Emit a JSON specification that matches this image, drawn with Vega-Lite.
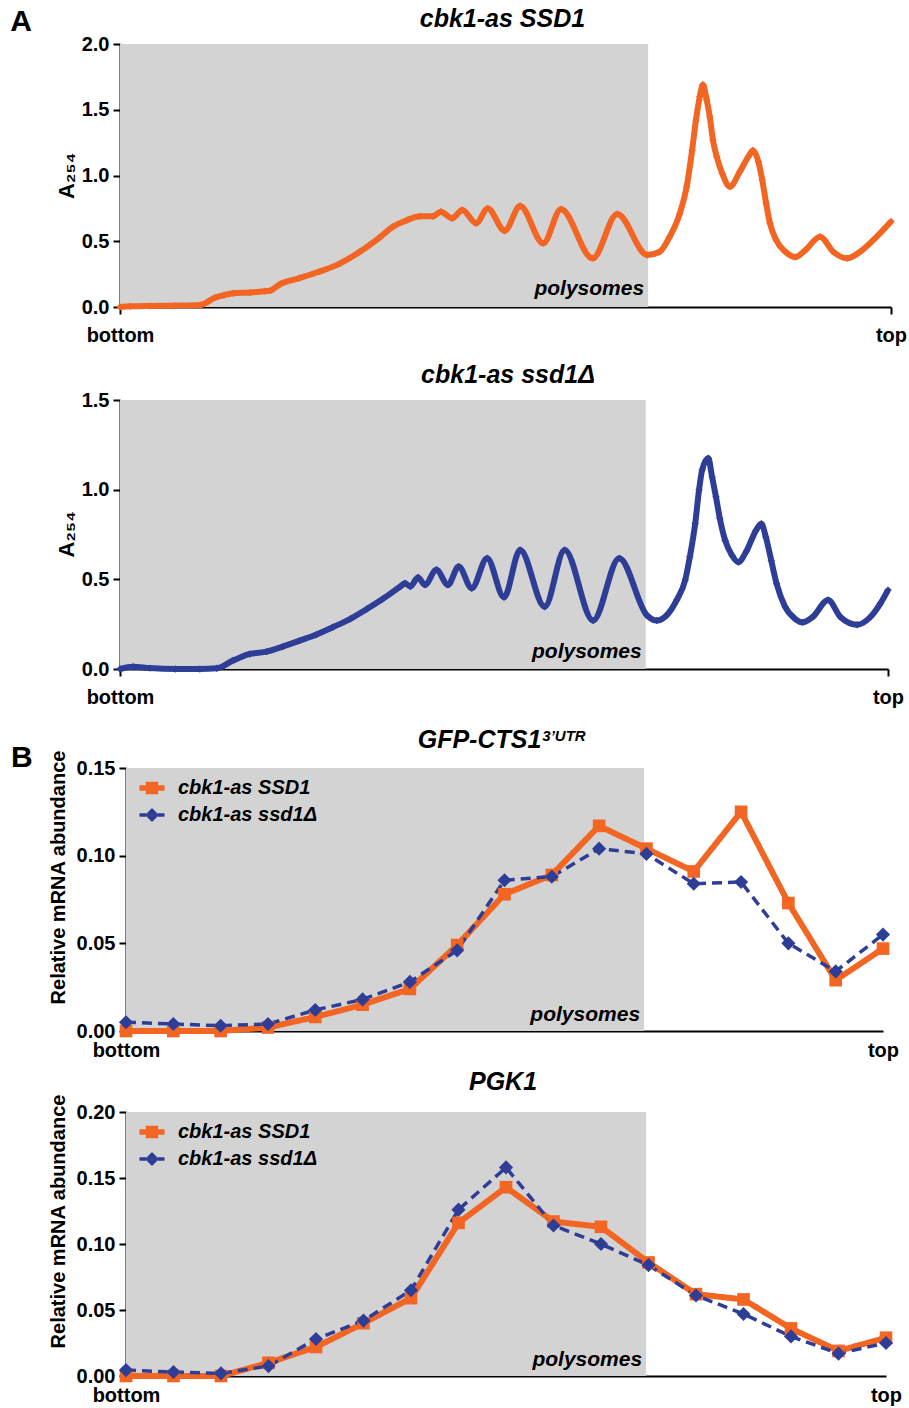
{
  "$schema": "https://vega.github.io/schema/vega-lite/v6.json",
  "autosize": {"type": "none"},
  "padding": {"left": 120, "top": 44, "right": 789, "bottom": 1364},
  "background": "white",
  "datasets": {
    "a1": [
      {"f": 0, "a": 0.0}, {"f": 1.3, "a": 0.005}, {"f": 3.9, "a": 0.008}, {"f": 7.1, "a": 0.01}, {"f": 10.4, "a": 0.015},
      {"f": 12.3, "a": 0.07}, {"f": 13.5, "a": 0.09}, {"f": 14.7, "a": 0.105}, {"f": 16.9, "a": 0.11}, {"f": 18.8, "a": 0.12},
      {"f": 19.5, "a": 0.125}, {"f": 20.8, "a": 0.175}, {"f": 23.3, "a": 0.22}, {"f": 25.9, "a": 0.27}, {"f": 28.5, "a": 0.33},
      {"f": 31.1, "a": 0.42}, {"f": 33.7, "a": 0.53}, {"f": 35.4, "a": 0.61}, {"f": 37.2, "a": 0.66}, {"f": 38.9, "a": 0.69},
      {"f": 40.6, "a": 0.69}, {"f": 41.6, "a": 0.725}, {"f": 43.1, "a": 0.675}, {"f": 44.4, "a": 0.738}, {"f": 46.2, "a": 0.637},
      {"f": 47.7, "a": 0.75}, {"f": 49.9, "a": 0.58}, {"f": 51.9, "a": 0.768}, {"f": 54.9, "a": 0.484}, {"f": 57.2, "a": 0.743},
      {"f": 61.3, "a": 0.37}, {"f": 64.5, "a": 0.707}, {"f": 68.4, "a": 0.395}, {"f": 70.0, "a": 0.42}, {"f": 71.3, "a": 0.535},
      {"f": 72.6, "a": 0.71}, {"f": 73.5, "a": 0.915}, {"f": 74.2, "a": 1.19}, {"f": 74.7, "a": 1.42}, {"f": 75.2, "a": 1.6},
      {"f": 75.6, "a": 1.69}, {"f": 76.1, "a": 1.574}, {"f": 76.5, "a": 1.447}, {"f": 76.9, "a": 1.27}, {"f": 77.4, "a": 1.143},
      {"f": 78.1, "a": 1.017}, {"f": 79.1, "a": 0.915}, {"f": 80.4, "a": 1.03}, {"f": 81.5, "a": 1.143}, {"f": 82.1, "a": 1.19},
      {"f": 82.8, "a": 1.105}, {"f": 83.3, "a": 0.966}, {"f": 83.8, "a": 0.789}, {"f": 84.3, "a": 0.637}, {"f": 85.1, "a": 0.51},
      {"f": 86.3, "a": 0.42}, {"f": 87.6, "a": 0.38}, {"f": 88.9, "a": 0.433}, {"f": 90.8, "a": 0.535}, {"f": 92.5, "a": 0.42},
      {"f": 94.3, "a": 0.37}, {"f": 96.0, "a": 0.42}, {"f": 97.9, "a": 0.52}, {"f": 100, "a": 0.65}
    ],
    "a2": [
      {"f": 0, "a": 0.0}, {"f": 1.7, "a": 0.013}, {"f": 3.9, "a": 0.005}, {"f": 7.2, "a": 0.0}, {"f": 10.4, "a": 0.0},
      {"f": 12.6, "a": 0.004}, {"f": 14.7, "a": 0.047}, {"f": 16.9, "a": 0.084}, {"f": 19.1, "a": 0.097}, {"f": 21.2, "a": 0.125},
      {"f": 23.4, "a": 0.158}, {"f": 25.6, "a": 0.192}, {"f": 27.7, "a": 0.233}, {"f": 30.0, "a": 0.28}, {"f": 32.2, "a": 0.336},
      {"f": 34.2, "a": 0.39}, {"f": 36.5, "a": 0.46}, {"f": 37.1, "a": 0.478}, {"f": 37.8, "a": 0.46}, {"f": 38.8, "a": 0.51},
      {"f": 39.7, "a": 0.469}, {"f": 41.2, "a": 0.553}, {"f": 42.7, "a": 0.469}, {"f": 44.1, "a": 0.571}, {"f": 45.8, "a": 0.45},
      {"f": 47.8, "a": 0.618}, {"f": 50.0, "a": 0.4}, {"f": 52.1, "a": 0.664}, {"f": 55.3, "a": 0.347}, {"f": 57.9, "a": 0.664},
      {"f": 61.6, "a": 0.27}, {"f": 65.0, "a": 0.618}, {"f": 68.6, "a": 0.3}, {"f": 69.9, "a": 0.27}, {"f": 71.2, "a": 0.3},
      {"f": 72.5, "a": 0.385}, {"f": 73.6, "a": 0.497}, {"f": 74.2, "a": 0.626}, {"f": 74.9, "a": 0.812}, {"f": 75.4, "a": 1.0},
      {"f": 75.8, "a": 1.11}, {"f": 76.6, "a": 1.175}, {"f": 77.1, "a": 1.07}, {"f": 77.6, "a": 0.96}, {"f": 78.1, "a": 0.84},
      {"f": 78.8, "a": 0.717}, {"f": 79.7, "a": 0.633}, {"f": 80.5, "a": 0.596}, {"f": 81.6, "a": 0.66}, {"f": 82.8, "a": 0.772},
      {"f": 83.5, "a": 0.81}, {"f": 84.1, "a": 0.735}, {"f": 84.8, "a": 0.605}, {"f": 85.5, "a": 0.475}, {"f": 86.6, "a": 0.347},
      {"f": 87.9, "a": 0.28}, {"f": 88.9, "a": 0.26}, {"f": 90.2, "a": 0.29}, {"f": 92.2, "a": 0.385}, {"f": 93.8, "a": 0.29},
      {"f": 96.0, "a": 0.247}, {"f": 97.7, "a": 0.29}, {"f": 99.0, "a": 0.365}, {"f": 100, "a": 0.44}
    ],
    "b1": [
      {"frac": 1, "strain": "cbk1-as SSD1", "v": 0.0}, {"frac": 2, "strain": "cbk1-as SSD1", "v": 0.0},
      {"frac": 3, "strain": "cbk1-as SSD1", "v": 0.0}, {"frac": 4, "strain": "cbk1-as SSD1", "v": 0.002},
      {"frac": 5, "strain": "cbk1-as SSD1", "v": 0.008}, {"frac": 6, "strain": "cbk1-as SSD1", "v": 0.015},
      {"frac": 7, "strain": "cbk1-as SSD1", "v": 0.024}, {"frac": 8, "strain": "cbk1-as SSD1", "v": 0.049},
      {"frac": 9, "strain": "cbk1-as SSD1", "v": 0.078}, {"frac": 10, "strain": "cbk1-as SSD1", "v": 0.089},
      {"frac": 11, "strain": "cbk1-as SSD1", "v": 0.117}, {"frac": 12, "strain": "cbk1-as SSD1", "v": 0.104},
      {"frac": 13, "strain": "cbk1-as SSD1", "v": 0.091}, {"frac": 14, "strain": "cbk1-as SSD1", "v": 0.125},
      {"frac": 15, "strain": "cbk1-as SSD1", "v": 0.073}, {"frac": 16, "strain": "cbk1-as SSD1", "v": 0.029},
      {"frac": 17, "strain": "cbk1-as SSD1", "v": 0.047},
      {"frac": 1, "strain": "cbk1-as ssd1Δ", "v": 0.005}, {"frac": 2, "strain": "cbk1-as ssd1Δ", "v": 0.004},
      {"frac": 3, "strain": "cbk1-as ssd1Δ", "v": 0.003}, {"frac": 4, "strain": "cbk1-as ssd1Δ", "v": 0.004},
      {"frac": 5, "strain": "cbk1-as ssd1Δ", "v": 0.012}, {"frac": 6, "strain": "cbk1-as ssd1Δ", "v": 0.018},
      {"frac": 7, "strain": "cbk1-as ssd1Δ", "v": 0.028}, {"frac": 8, "strain": "cbk1-as ssd1Δ", "v": 0.046},
      {"frac": 9, "strain": "cbk1-as ssd1Δ", "v": 0.086}, {"frac": 10, "strain": "cbk1-as ssd1Δ", "v": 0.088},
      {"frac": 11, "strain": "cbk1-as ssd1Δ", "v": 0.104}, {"frac": 12, "strain": "cbk1-as ssd1Δ", "v": 0.101},
      {"frac": 13, "strain": "cbk1-as ssd1Δ", "v": 0.084}, {"frac": 14, "strain": "cbk1-as ssd1Δ", "v": 0.085},
      {"frac": 15, "strain": "cbk1-as ssd1Δ", "v": 0.05}, {"frac": 16, "strain": "cbk1-as ssd1Δ", "v": 0.034},
      {"frac": 17, "strain": "cbk1-as ssd1Δ", "v": 0.055}
    ],
    "b2": [
      {"frac": 1, "strain": "cbk1-as SSD1", "v": 0.0}, {"frac": 2, "strain": "cbk1-as SSD1", "v": 0.0},
      {"frac": 3, "strain": "cbk1-as SSD1", "v": 0.0}, {"frac": 4, "strain": "cbk1-as SSD1", "v": 0.01},
      {"frac": 5, "strain": "cbk1-as SSD1", "v": 0.022}, {"frac": 6, "strain": "cbk1-as SSD1", "v": 0.04},
      {"frac": 7, "strain": "cbk1-as SSD1", "v": 0.059}, {"frac": 8, "strain": "cbk1-as SSD1", "v": 0.116},
      {"frac": 9, "strain": "cbk1-as SSD1", "v": 0.143}, {"frac": 10, "strain": "cbk1-as SSD1", "v": 0.117},
      {"frac": 11, "strain": "cbk1-as SSD1", "v": 0.113}, {"frac": 12, "strain": "cbk1-as SSD1", "v": 0.086},
      {"frac": 13, "strain": "cbk1-as SSD1", "v": 0.062}, {"frac": 14, "strain": "cbk1-as SSD1", "v": 0.058},
      {"frac": 15, "strain": "cbk1-as SSD1", "v": 0.036}, {"frac": 16, "strain": "cbk1-as SSD1", "v": 0.019},
      {"frac": 17, "strain": "cbk1-as SSD1", "v": 0.029},
      {"frac": 1, "strain": "cbk1-as ssd1Δ", "v": 0.0045}, {"frac": 2, "strain": "cbk1-as ssd1Δ", "v": 0.003},
      {"frac": 3, "strain": "cbk1-as ssd1Δ", "v": 0.002}, {"frac": 4, "strain": "cbk1-as ssd1Δ", "v": 0.0075},
      {"frac": 5, "strain": "cbk1-as ssd1Δ", "v": 0.028}, {"frac": 6, "strain": "cbk1-as ssd1Δ", "v": 0.042},
      {"frac": 7, "strain": "cbk1-as ssd1Δ", "v": 0.065}, {"frac": 8, "strain": "cbk1-as ssd1Δ", "v": 0.126},
      {"frac": 9, "strain": "cbk1-as ssd1Δ", "v": 0.158}, {"frac": 10, "strain": "cbk1-as ssd1Δ", "v": 0.114},
      {"frac": 11, "strain": "cbk1-as ssd1Δ", "v": 0.1}, {"frac": 12, "strain": "cbk1-as ssd1Δ", "v": 0.084},
      {"frac": 13, "strain": "cbk1-as ssd1Δ", "v": 0.061}, {"frac": 14, "strain": "cbk1-as ssd1Δ", "v": 0.047},
      {"frac": 15, "strain": "cbk1-as ssd1Δ", "v": 0.03}, {"frac": 16, "strain": "cbk1-as ssd1Δ", "v": 0.017},
      {"frac": 17, "strain": "cbk1-as ssd1Δ", "v": 0.025}
    ]
  },
  "config": {
    "font": "Liberation Sans",
    "view": {"stroke": null},
    "axis": {
      "grid": false, "domainColor": "black", "domainWidth": 2, "tickColor": "black", "tickWidth": 2, "tickSize": 7,
      "labelFont": "Liberation Sans", "labelFontWeight": "bold", "labelFontSize": 20, "labelColor": "black",
      "titleFont": "Liberation Sans", "titleFontWeight": "bold", "titleFontSize": 19, "titleColor": "black"
    },
    "title": {"font": "Liberation Sans", "fontWeight": "bold", "fontStyle": "italic", "fontSize": 25, "color": "black", "frame": "group", "anchor": "middle"},
    "legend": {"labelFont": "Liberation Sans"}
  },
  "resolve": {"legend": {"color": "independent"}},
  "spacing": 81,
  "bounds": "flush",
  "vconcat": [
    {
      "width": 771, "height": 263,
      "title": {"text": "cbk1-as SSD1", "offset": -25, "dx": -3},
      "layer": [
        {"data": {"values": [{"region": "polysomes"}]}, "mark": {"type": "rect", "color": "#D3D3D3"},
          "encoding": {
            "x": {"datum": 0, "type": "quantitative", "scale": {"domain": [0, 100], "nice": false, "zero": false},
              "axis": {"values": [0, 100], "labelExpr": "datum.value == 0 ? 'bottom' : 'top'", "title": null, "labelPadding": 11, "labelFlush": false}},
            "x2": {"datum": 68.5},
            "y": {"datum": 0, "type": "quantitative", "scale": {"domain": [0, 2], "nice": false},
              "axis": {"values": [0, 0.5, 1, 1.5, 2], "format": ".1f", "title": "A₂₅₄", "titleFontSize": 22, "labelPadding": 4, "titlePadding": 3}},
            "y2": {"datum": 2}}},
        {"data": {"name": "a1"}, "mark": {"type": "line", "interpolate": "monotone", "color": "#F26522", "strokeWidth": 6},
          "encoding": {"x": {"field": "f", "type": "quantitative", "scale": {"domain": [0, 100]}}, "y": {"field": "a", "type": "quantitative", "scale": {"domain": [0, 2]}}}},
        {"data": {"name": "a1"}, "mark": {"type": "point", "shape": "diamond", "filled": true, "size": 55, "color": "#F26522", "opacity": 1},
          "encoding": {"x": {"field": "f", "type": "quantitative", "scale": {"domain": [0, 100]}}, "y": {"field": "a", "type": "quantitative", "scale": {"domain": [0, 2]}}}},
        {"data": {"values": [{"region": "polysomes"}]}, "mark": {"type": "text", "text": "polysomes", "fontSize": 21, "fontWeight": "bold", "fontStyle": "italic", "align": "right", "baseline": "alphabetic", "dx": -4, "dy": -12, "color": "black"},
          "encoding": {"x": {"datum": 68.5, "type": "quantitative", "scale": {"domain": [0, 100]}}, "y": {"datum": 0, "type": "quantitative", "scale": {"domain": [0, 2]}}}},
        {"data": {"values": [{"panel": "A"}]}, "mark": {"type": "text", "fontSize": 30, "fontWeight": "bold", "align": "center", "baseline": "alphabetic", "color": "black"},
          "encoding": {"text": {"field": "panel"}, "x": {"datum": -12.84, "type": "quantitative", "scale": {"domain": [0, 100]}}, "y": {"datum": 2.099, "type": "quantitative", "scale": {"domain": [0, 2]}}}}
      ]
    },
    {
      "width": 768, "height": 281,
      "title": {"text": "cbk1-as ssd1Δ", "offset": 0, "dx": 4},
      "layer": [
        {"data": {"values": [{"region": "polysomes"}]}, "mark": {"type": "rect", "color": "#D3D3D3"},
          "encoding": {
            "x": {"datum": 0, "type": "quantitative", "scale": {"domain": [0, 100], "nice": false, "zero": false},
              "axis": {"values": [0, 100], "labelExpr": "datum.value == 0 ? 'bottom' : 'top'", "title": null, "labelPadding": 11, "labelFlush": false}},
            "x2": {"datum": 68.45},
            "y": {"datum": 0, "type": "quantitative", "scale": {"domain": [0, 1.5], "nice": false, "range": [281, 12]},
              "axis": {"values": [0, 0.5, 1, 1.5], "format": ".1f", "title": "A₂₅₄", "titleFontSize": 22, "labelPadding": 4, "titlePadding": 3, "titleY": 146}},
            "y2": {"datum": 1.5}}},
        {"data": {"name": "a2"}, "mark": {"type": "line", "interpolate": "monotone", "color": "#2E3E96", "strokeWidth": 6},
          "encoding": {"x": {"field": "f", "type": "quantitative", "scale": {"domain": [0, 100]}}, "y": {"field": "a", "type": "quantitative", "scale": {"domain": [0, 1.5]}}}},
        {"data": {"name": "a2"}, "mark": {"type": "point", "shape": "diamond", "filled": true, "size": 55, "color": "#2E3E96", "opacity": 1},
          "encoding": {"x": {"field": "f", "type": "quantitative", "scale": {"domain": [0, 100]}}, "y": {"field": "a", "type": "quantitative", "scale": {"domain": [0, 1.5]}}}},
        {"data": {"values": [{"region": "polysomes"}]}, "mark": {"type": "text", "text": "polysomes", "fontSize": 21, "fontWeight": "bold", "fontStyle": "italic", "align": "right", "baseline": "alphabetic", "dx": -4, "dy": -11, "color": "black"},
          "encoding": {"x": {"datum": 68.45, "type": "quantitative", "scale": {"domain": [0, 100]}}, "y": {"datum": 0, "type": "quantitative", "scale": {"domain": [0, 1.5]}}}}
      ]
    },
    {
      "width": 763, "height": 281,
      "title": {"text": "GFP-CTS1", "offset": -24, "dx": -22},
      "layer": [
        {"data": {"values": [{"region": "polysomes"}]}, "mark": {"type": "rect", "color": "#D3D3D3"},
          "encoding": {
            "x": {"datum": 1, "type": "quantitative", "scale": {"domain": [1, 17], "range": [6, 763], "nice": false, "zero": false},
              "axis": {"values": [1, 17], "labelExpr": "datum.value == 1 ? 'bottom' : 'top'", "title": null, "ticks": false, "labelPadding": 9, "labelFlush": false}},
            "x2": {"datum": 11.95},
            "y": {"datum": 0, "type": "quantitative", "scale": {"domain": [0, 0.15], "nice": false, "range": [281, 18]},
              "axis": {"values": [0, 0.05, 0.1, 0.15], "format": ".2f", "title": "Relative mRNA abundance", "titleFontSize": 20, "offset": -6, "labelPadding": 4, "titlePadding": 8, "titleY": 127}},
            "y2": {"datum": 0.15}}},
        {"data": {"name": "b1"}, "mark": {"type": "line"},
          "encoding": {
            "x": {"field": "frac", "type": "quantitative", "scale": {"domain": [1, 17]}},
            "y": {"field": "v", "type": "quantitative", "scale": {"domain": [0, 0.15]}},
            "color": {"field": "strain", "type": "nominal", "scale": {"domain": ["cbk1-as SSD1", "cbk1-as ssd1Δ"], "range": ["#F26522", "#2E3E96"]},
              "legend": {"title": null, "orient": "none", "legendX": 22, "legendY": 28, "labelFontSize": 20, "labelFontWeight": "bold", "labelFontStyle": "italic", "labelColor": "black", "symbolSize": 400, "rowPadding": 7, "labelOffset": 16,
                "encode": {"symbols": {"update": {
                  "shape": {"signal": "datum.value === 'cbk1-as SSD1' ? 'M-1.25,-0.28H1.25V0.28H-1.25Z M-0.62,-0.62H0.62V0.62H-0.62Z' : 'M-1.25,-0.17H-0.6V0.17H-1.25Z M0.6,-0.17H1.25V0.17H0.6Z M0,-0.7L0.7,0L0,0.7L-0.7,0Z'"},
                  "fill": {"signal": "datum.value === 'cbk1-as SSD1' ? '#F26522' : '#2E3E96'"},
                  "fillOpacity": {"value": 1}, "opacity": {"value": 1}, "strokeWidth": {"value": 0}}}}}},
            "strokeDash": {"field": "strain", "type": "nominal", "scale": {"domain": ["cbk1-as SSD1", "cbk1-as ssd1Δ"], "range": [[1, 0], [10, 6]]}, "legend": null},
            "strokeWidth": {"field": "strain", "type": "nominal", "scale": {"domain": ["cbk1-as SSD1", "cbk1-as ssd1Δ"], "range": [6, 3.5]}, "legend": null}
          }},
        {"data": {"name": "b1"}, "mark": {"type": "point", "filled": true, "opacity": 1},
          "encoding": {
            "x": {"field": "frac", "type": "quantitative", "scale": {"domain": [1, 17]}},
            "y": {"field": "v", "type": "quantitative", "scale": {"domain": [0, 0.15]}},
            "color": {"field": "strain", "type": "nominal", "scale": {"domain": ["cbk1-as SSD1", "cbk1-as ssd1Δ"], "range": ["#F26522", "#2E3E96"]}, "legend": null},
            "shape": {"field": "strain", "type": "nominal", "scale": {"domain": ["cbk1-as SSD1", "cbk1-as ssd1Δ"], "range": ["square", "diamond"]}, "legend": null},
            "size": {"field": "strain", "type": "nominal", "scale": {"domain": ["cbk1-as SSD1", "cbk1-as ssd1Δ"], "range": [160, 200]}, "legend": null}
          }},
        {"data": {"values": [{"region": "polysomes"}]}, "mark": {"type": "text", "text": "polysomes", "fontSize": 21, "fontWeight": "bold", "fontStyle": "italic", "align": "right", "baseline": "alphabetic", "dx": -4, "dy": -10, "color": "black"},
          "encoding": {"x": {"datum": 11.95, "type": "quantitative", "scale": {"domain": [1, 17]}}, "y": {"datum": 0, "type": "quantitative", "scale": {"domain": [0, 0.15]}}}},
        {"data": {"values": [{"sup": "3’UTR"}]}, "mark": {"type": "text", "fontSize": 15, "fontWeight": "bold", "fontStyle": "italic", "align": "left", "baseline": "alphabetic", "color": "black"},
          "encoding": {"text": {"field": "sup"}, "x": {"datum": 9.8, "type": "quantitative", "scale": {"domain": [1, 17]}}, "y": {"datum": 0.1654, "type": "quantitative", "scale": {"domain": [0, 0.15]}}}},
        {"data": {"values": [{"panel": "B"}]}, "mark": {"type": "text", "fontSize": 30, "fontWeight": "bold", "align": "center", "baseline": "alphabetic", "color": "black"},
          "encoding": {"text": {"field": "panel"}, "x": {"datum": -1.2, "type": "quantitative", "scale": {"domain": [1, 17]}}, "y": {"datum": 0.1506, "type": "quantitative", "scale": {"domain": [0, 0.15]}}}}
      ]
    },
    {
      "width": 766, "height": 264,
      "title": {"text": "PGK1", "offset": -1},
      "layer": [
        {"data": {"values": [{"region": "polysomes"}]}, "mark": {"type": "rect", "color": "#D3D3D3"},
          "encoding": {
            "x": {"datum": 1, "type": "quantitative", "scale": {"domain": [1, 17], "range": [6, 766], "nice": false, "zero": false},
              "axis": {"values": [1, 17], "labelExpr": "datum.value == 1 ? 'bottom' : 'top'", "title": null, "ticks": false, "labelPadding": 9, "labelFlush": false}},
            "x2": {"datum": 11.95},
            "y": {"datum": 0, "type": "quantitative", "scale": {"domain": [0, 0.2], "nice": false},
              "axis": {"values": [0, 0.05, 0.1, 0.15, 0.2], "format": ".2f", "title": "Relative mRNA abundance", "titleFontSize": 20, "offset": -6, "labelPadding": 4, "titlePadding": 8, "titleY": 109}},
            "y2": {"datum": 0.2}}},
        {"data": {"name": "b2"}, "mark": {"type": "line"},
          "encoding": {
            "x": {"field": "frac", "type": "quantitative", "scale": {"domain": [1, 17]}},
            "y": {"field": "v", "type": "quantitative", "scale": {"domain": [0, 0.2]}},
            "color": {"field": "strain", "type": "nominal", "scale": {"domain": ["cbk1-as SSD1", "cbk1-as ssd1Δ"], "range": ["#F26522", "#2E3E96"]},
              "legend": {"title": null, "orient": "none", "legendX": 22, "legendY": 10, "labelFontSize": 20, "labelFontWeight": "bold", "labelFontStyle": "italic", "labelColor": "black", "symbolSize": 400, "rowPadding": 7, "labelOffset": 16,
                "encode": {"symbols": {"update": {
                  "shape": {"signal": "datum.value === 'cbk1-as SSD1' ? 'M-1.25,-0.28H1.25V0.28H-1.25Z M-0.62,-0.62H0.62V0.62H-0.62Z' : 'M-1.25,-0.17H-0.6V0.17H-1.25Z M0.6,-0.17H1.25V0.17H0.6Z M0,-0.7L0.7,0L0,0.7L-0.7,0Z'"},
                  "fill": {"signal": "datum.value === 'cbk1-as SSD1' ? '#F26522' : '#2E3E96'"},
                  "fillOpacity": {"value": 1}, "opacity": {"value": 1}, "strokeWidth": {"value": 0}}}}}},
            "strokeDash": {"field": "strain", "type": "nominal", "scale": {"domain": ["cbk1-as SSD1", "cbk1-as ssd1Δ"], "range": [[1, 0], [10, 6]]}, "legend": null},
            "strokeWidth": {"field": "strain", "type": "nominal", "scale": {"domain": ["cbk1-as SSD1", "cbk1-as ssd1Δ"], "range": [6, 3.5]}, "legend": null}
          }},
        {"data": {"name": "b2"}, "mark": {"type": "point", "filled": true, "opacity": 1},
          "encoding": {
            "x": {"field": "frac", "type": "quantitative", "scale": {"domain": [1, 17]}},
            "y": {"field": "v", "type": "quantitative", "scale": {"domain": [0, 0.2]}},
            "color": {"field": "strain", "type": "nominal", "scale": {"domain": ["cbk1-as SSD1", "cbk1-as ssd1Δ"], "range": ["#F26522", "#2E3E96"]}, "legend": null},
            "shape": {"field": "strain", "type": "nominal", "scale": {"domain": ["cbk1-as SSD1", "cbk1-as ssd1Δ"], "range": ["square", "diamond"]}, "legend": null},
            "size": {"field": "strain", "type": "nominal", "scale": {"domain": ["cbk1-as SSD1", "cbk1-as ssd1Δ"], "range": [160, 200]}, "legend": null}
          }},
        {"data": {"values": [{"region": "polysomes"}]}, "mark": {"type": "text", "text": "polysomes", "fontSize": 21, "fontWeight": "bold", "fontStyle": "italic", "align": "right", "baseline": "alphabetic", "dx": -4, "dy": -10, "color": "black"},
          "encoding": {"x": {"datum": 11.95, "type": "quantitative", "scale": {"domain": [1, 17]}}, "y": {"datum": 0, "type": "quantitative", "scale": {"domain": [0, 0.2]}}}}
      ]
    }
  ]
}
